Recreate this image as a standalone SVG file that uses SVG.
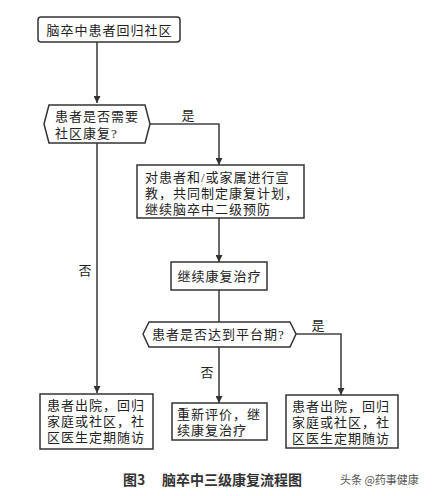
<svg xmlns="http://www.w3.org/2000/svg" width="432" height="496" viewBox="0 0 432 496">
<style>
.box{fill:#fff;stroke:#333;stroke-width:1.5}
.t{font-family:"Liberation Serif","Noto Sans CJK SC",serif;font-size:13px;letter-spacing:1px;fill:#222}
.lbl{font-family:"Liberation Serif","Noto Sans CJK SC",serif;font-size:13px;fill:#222}
.conn{fill:none;stroke:#444;stroke-width:1.6}
.cap{font-family:"Noto Sans CJK SC","Liberation Sans",sans-serif;font-size:14px;font-weight:bold;fill:#333}
.wm{font-family:"Noto Sans CJK SC","Liberation Sans",sans-serif;font-size:11px;fill:#555}
</style>
<defs>
<marker id="arr" viewBox="0 0 10 10" refX="10" refY="5" markerWidth="7" markerHeight="7" markerUnits="userSpaceOnUse" orient="auto">
<path d="M0,0 L10,5 L0,10 z" fill="#333"/>
</marker>
</defs>
<rect width="432" height="496" fill="#fff"/>
<g id="connectors">
<path class="conn" d="M97 42 V103" marker-end="url(#arr)"/>
<path class="conn" d="M97 143 V393" marker-end="url(#arr)"/>
<path class="conn" d="M150 124 H219 V165" marker-end="url(#arr)"/>
<path class="conn" d="M219 218 V262" marker-end="url(#arr)"/>
<path class="conn" d="M219 290 V322"/>
<path class="conn" d="M219 347 V403" marker-end="url(#arr)"/>
<path class="conn" d="M296 334 H341 V395" marker-end="url(#arr)"/>
<text class="lbl" x="188" y="120" text-anchor="middle">是</text>
<text class="lbl" x="85" y="275" text-anchor="middle">否</text>
<text class="lbl" x="207" y="377" text-anchor="middle">否</text>
<text class="lbl" x="318" y="330" text-anchor="middle">是</text>
</g>
<g id="start">
<rect class="box" x="38" y="17" width="142" height="25" rx="3"/>
<text class="t" x="109.5" y="34.5" text-anchor="middle">脑卒中患者回归社区</text>
</g>
<g id="decision1">
<polygon class="box" points="44,124 49,105 145,105 150,124 145,143 49,143"/>
<text class="t" x="55" y="121">患者是否需要</text>
<text class="t" x="55" y="138">社区康复?</text>
</g>
<g id="education">
<rect class="box" x="137" y="165" width="167" height="53"/>
<text class="t" x="145" y="182">对患者和/或家属进行宣</text>
<text class="t" x="145" y="198">教，共同制定康复计划，</text>
<text class="t" x="145" y="214">继续脑卒中二级预防</text>
</g>
<g id="continue">
<rect class="box" x="171" y="262" width="96" height="28"/>
<text class="t" x="219.5" y="280.5" text-anchor="middle">继续康复治疗</text>
</g>
<g id="decision2">
<polygon class="box" points="143,334 149,322 290,322 296,334 290,347 149,347"/>
<text class="t" x="152" y="339">患者是否达到平台期?</text>
</g>
<g id="discharge-left">
<rect class="box" x="40" y="394" width="113" height="55"/>
<text class="t" x="47" y="410">患者出院，回归</text>
<text class="t" x="47" y="426">家庭或社区，社</text>
<text class="t" x="47" y="442">区医生定期随访</text>
</g>
<g id="reevaluate">
<rect class="box" x="172" y="403" width="95" height="37"/>
<text class="t" x="177" y="419">重新评价，继</text>
<text class="t" x="177" y="435">续康复治疗</text>
</g>
<g id="discharge-right">
<rect class="box" x="286" y="395" width="112" height="53"/>
<text class="t" x="292" y="411">患者出院，回归</text>
<text class="t" x="292" y="427">家庭或社区，社</text>
<text class="t" x="292" y="443">区医生定期随访</text>
</g>
<text class="cap" x="123" y="485">图3</text>
<text class="cap" x="162" y="485">脑卒中三级康复流程图</text>
<text class="wm" x="340" y="484">头条 @药事健康</text>
</svg>
